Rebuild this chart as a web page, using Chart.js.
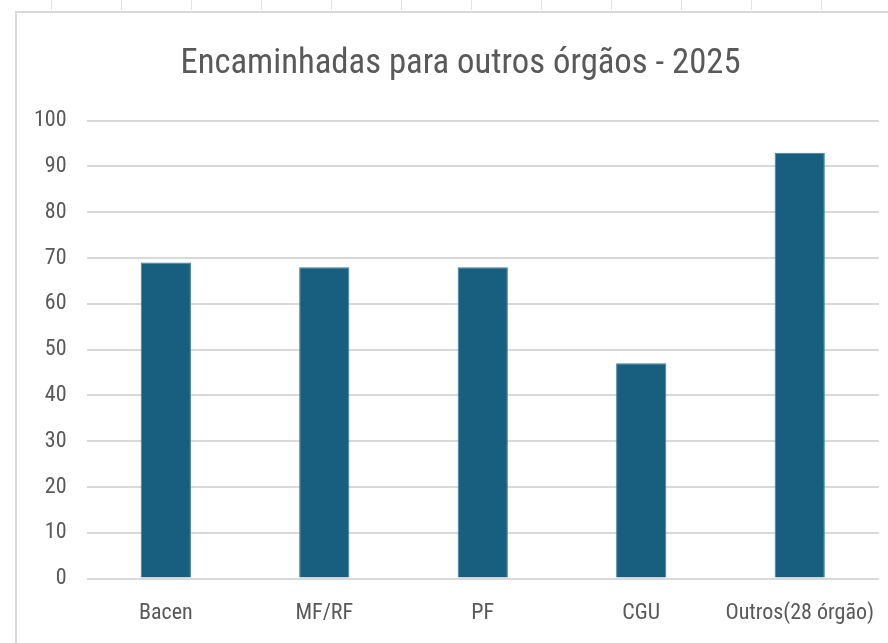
<!DOCTYPE html>
<html lang="pt">
    <head>
        <meta charset="UTF-8" />
        <title>Encaminhadas para outros órgãos - 2025</title>
        <script src="https://cdn.jsdelivr.net/npm/chart.js@4.4.0/dist/chart.umd.min.js"></script>
        <style>
            html, body { margin: 0; padding: 0; background: #fff; overflow: hidden; }
            #ruler-top {
                position: absolute; left: 15px; top: 0; width: 873px; height: 10px;
                background: repeating-linear-gradient(to right, transparent 0, transparent 36px, #e3e3e3 36px, #e3e3e3 37px, transparent 37px, transparent 70px);
            }
            #frame {
                position: absolute; left: 15px; top: 11px; width: 881px; height: 638px;
                border-left: 2px solid #d9d9d9; border-top: 2px solid #d9d9d9;
                box-sizing: border-box;
            }
        </style>
    </head>
    <body>
        <div id="ruler-top"></div>
        <div id="frame">
            <canvas id="canvas"></canvas>
        </div>
        <script>
            var categories = ["Bacen", "MF/RF", "PF", "CGU", "Outros(28 órgão)"];
            var values = [69, 68, 68, 47, 93];
            var yTicks = [0, 10, 20, 30, 40, 50, 60, 70, 80, 90, 100];

            var font = "'Liberation Sans Narrow', 'Roboto Condensed', 'Liberation Sans', sans-serif";
            var textColor = "#595959";

            // canvas runs a little past the window edge, like the cropped original
            var canvas = document.getElementById("canvas");
            canvas.width = 879;
            canvas.height = 636;
            canvas.style.width = "879px";
            canvas.style.height = "636px";

            var ctx = canvas.getContext("2d");
            var chart = new Chart(ctx, {
                type: "bar",
                data: {
                    labels: categories,
                    datasets: [
                        {
                            data: values,
                            backgroundColor: "#175e7f",
                            borderColor: "#3d7e9c",
                            borderWidth: 1,
                            barPercentage: 0.317,
                            categoryPercentage: 1,
                        },
                    ],
                },
                options: {
                    responsive: false,
                    animation: false,
                    layout: { padding: { left: -3, right: -11, top: 0, bottom: 0 } },
                    plugins: {
                        legend: { display: false },
                        tooltip: { enabled: false },
                        title: {
                            display: true,
                            text: "Encaminhadas para outros órgãos - 2025",
                            color: textColor,
                            font: { family: font, size: 34.7, weight: "normal" },
                            padding: { top: 31, bottom: 35 },
                        },
                    },
                    scales: {
                        x: {
                            grid: { display: false, drawTicks: false },
                            border: { display: false },
                            ticks: {
                                color: textColor,
                                font: { family: font, size: 22 },
                                padding: 22,
                                maxRotation: 0,
                                autoSkip: false,
                            },
                        },
                        y: {
                            min: 0,
                            max: 100,
                            afterBuildTicks: function (axis) {
                                axis.ticks = yTicks.map(function (v) { return { value: v }; });
                            },
                            grid: { color: "#d9d9d9", lineWidth: 2, drawTicks: false },
                            border: { display: false },
                            ticks: {
                                color: textColor,
                                font: { family: font, size: 22 },
                                padding: 20,
                            },
                        },
                    },
                },
            });
        </script>
    </body>
</html>
